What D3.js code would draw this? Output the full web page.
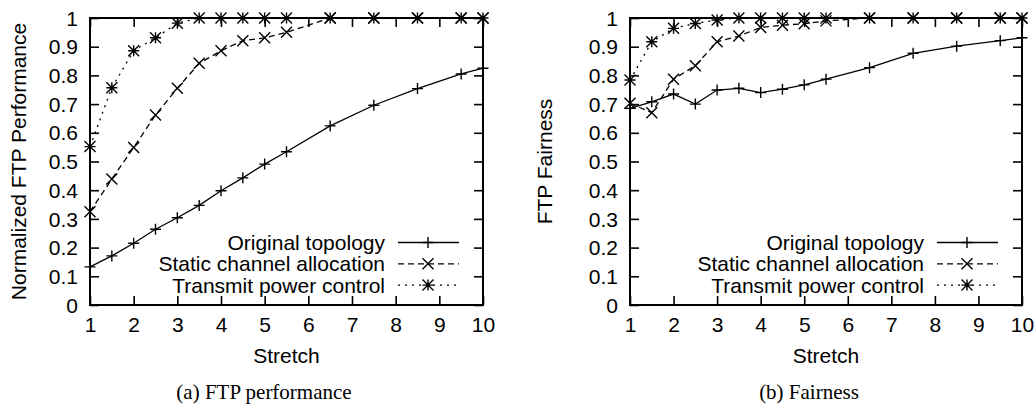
<!DOCTYPE html>
<html>
<head>
<meta charset="utf-8">
<script src="https://cdn.jsdelivr.net/npm/d3@7"></script>
<style>
  body { margin: 0; background: #fff; }
  svg { display: block; }
  .tick text { font-family: "Liberation Sans", Arial, sans-serif; font-size: 21px; fill: #000; }
  .lbl { font-family: "Liberation Sans", Arial, sans-serif; font-size: 21px; fill: #000; }
  .cap { font-family: "Liberation Serif", "Times New Roman", serif; font-size: 21px; fill: #000; }
</style>
</head>
<body>
<script>
// stretch values where the runs were measured
const stretch = [1, 1.5, 2, 2.5, 3, 3.5, 4, 4.5, 5, 5.5, 6.5, 7.5, 8.5, 9.5, 10];

// (a) normalized FTP performance
const perfOriginal = [0.133, 0.171, 0.215, 0.264, 0.304, 0.347, 0.398, 0.443, 0.491, 0.534, 0.624, 0.696, 0.754, 0.805, 0.825];
const perfStatic   = [0.325, 0.439, 0.549, 0.662, 0.755, 0.842, 0.886, 0.921, 0.931, 0.950, 1.0, 1.0, 1.0, 1.0, 1.0];
const perfPower    = [0.552, 0.757, 0.886, 0.931, 0.982, 1.0, 1.0, 1.0, 1.0, 1.0, 1.0, 1.0, 1.0, 1.0, 1.0];

// (b) FTP fairness
const fairOriginal = [0.685, 0.708, 0.735, 0.700, 0.749, 0.755, 0.740, 0.752, 0.767, 0.787, 0.827, 0.877, 0.902, 0.921, 0.931];
const fairStatic   = [0.703, 0.670, 0.787, 0.834, 0.917, 0.937, 0.967, 0.975, 0.980, 0.990, 1.0, 1.0, 1.0, 1.0, 1.0];
const fairPower    = [0.784, 0.917, 0.964, 0.981, 0.993, 1.0, 1.0, 1.0, 1.0, 1.0, 1.0, 1.0, 1.0, 1.0, 1.0];

const seriesNames = ['Original topology', 'Static channel allocation', 'Transmit power control'];
const xTicks = [1, 2, 3, 4, 5, 6, 7, 8, 9, 10];
const yTicks = [0, 0.1, 0.2, 0.3, 0.4, 0.5, 0.6, 0.7, 0.8, 0.9, 1];

const W = 1036, H = 404;
const TICK = 9;
const MS = 5.5; // marker half size

// line style + marker shape for each series (gnuplot look)
const styles = [
  { dash: null,  marker: 'plus' },
  { dash: '6,4', marker: 'cross' },
  { dash: '2,5', marker: 'star' }
];

const svg = d3.select('body').append('svg')
  .attr('width', W)
  .attr('height', H);

function markerPath(kind) {
  let s = MS;
  let plus = 'M' + (-s) + ',0H' + s + 'M0,' + (-s) + 'V' + s;
  let cross = 'M' + (-s) + ',' + (-s) + 'L' + s + ',' + s + 'M' + (-s) + ',' + s + 'L' + s + ',' + (-s);
  if (kind === 'plus') return plus;
  if (kind === 'cross') return cross;
  return plus + cross;
}

function drawPanel(opts) {
  let x = d3.scaleLinear().domain([1, 10]).range([opts.left, opts.right]);
  let y = d3.scaleLinear().domain([0, 1]).range([opts.bottom, opts.top]);
  let g = svg.append('g');

  // axes, ticks pointing inwards on all four sides
  let fmt = d3.format('~g');
  g.append('g')
    .attr('class', 'xaxis')
    .attr('transform', 'translate(0,' + opts.bottom + ')')
    .call(d3.axisBottom(x).tickValues(xTicks).tickFormat(fmt).tickSize(-TICK).tickPadding(12));
  g.append('g')
    .attr('transform', 'translate(0,' + opts.top + ')')
    .call(d3.axisTop(x).tickValues(xTicks).tickFormat('').tickSize(-TICK));
  g.append('g')
    .attr('class', 'yaxis')
    .attr('transform', 'translate(' + opts.left + ',0)')
    .call(d3.axisLeft(y).tickValues(yTicks).tickFormat(fmt).tickSize(-TICK).tickPadding(12));
  g.append('g')
    .attr('transform', 'translate(' + opts.right + ',0)')
    .call(d3.axisRight(y).tickValues(yTicks).tickFormat('').tickSize(-TICK));

  g.selectAll('.domain').remove();
  g.selectAll('.tick line').attr('stroke', '#000').attr('stroke-width', 1.6);
  g.selectAll('.xaxis .tick text').attr('dy', '0.71em');
  g.selectAll('.yaxis .tick text').attr('dy', '0.34em');

  // border
  g.append('rect')
    .attr('x', opts.left)
    .attr('y', opts.top)
    .attr('width', opts.right - opts.left)
    .attr('height', opts.bottom - opts.top)
    .attr('fill', 'none')
    .attr('stroke', '#000')
    .attr('stroke-width', 2);

  // series
  let line = d3.line()
    .x(function(d) { return x(d[0]); })
    .y(function(d) { return y(d[1]); });

  opts.series.forEach(function(vals, si) {
    let pts = stretch.map(function(s, i) { return [s, vals[i]]; });
    g.append('path')
      .attr('d', line(pts))
      .attr('fill', 'none')
      .attr('stroke', '#000')
      .attr('stroke-width', 1.3)
      .attr('stroke-dasharray', styles[si].dash);
    g.selectAll('.m' + si)
      .data(pts)
      .enter()
      .append('path')
      .attr('transform', function(d) { return 'translate(' + x(d[0]) + ',' + y(d[1]) + ')'; })
      .attr('d', markerPath(styles[si].marker))
      .attr('fill', 'none')
      .attr('stroke', '#000')
      .attr('stroke-width', 1.4);
  });

  // legend (inside, lower right)
  seriesNames.forEach(function(name, si) {
    let ly = 242.5 + si * 21.3;
    g.append('text')
      .attr('class', 'lbl')
      .attr('x', opts.right - 98)
      .attr('y', ly)
      .attr('dy', '0.36em')
      .attr('text-anchor', 'end')
      .text(name);
    g.append('line')
      .attr('x1', opts.right - 85)
      .attr('x2', opts.right - 24)
      .attr('y1', ly)
      .attr('y2', ly)
      .attr('stroke', '#000')
      .attr('stroke-width', 1.3)
      .attr('stroke-dasharray', styles[si].dash);
    g.append('path')
      .attr('transform', 'translate(' + (opts.right - 55) + ',' + ly + ')')
      .attr('d', markerPath(styles[si].marker))
      .attr('fill', 'none')
      .attr('stroke', '#000')
      .attr('stroke-width', 1.4);
  });

  // axis titles
  g.append('text')
    .attr('class', 'lbl')
    .attr('x', (opts.left + opts.right) / 2)
    .attr('y', 363)
    .attr('text-anchor', 'middle')
    .text('Stretch');
  g.append('text')
    .attr('class', 'lbl')
    .attr('transform', 'translate(' + opts.ylabelX + ',' + ((opts.top + opts.bottom) / 2) + ') rotate(-90)')
    .attr('text-anchor', 'middle')
    .text(opts.ylabel);

  // caption
  g.append('text')
    .attr('class', 'cap')
    .attr('x', opts.captionX)
    .attr('y', 399)
    .attr('text-anchor', 'middle')
    .text(opts.caption);
}

drawPanel({
  left: 90, right: 483, top: 18, bottom: 305,
  series: [perfOriginal, perfStatic, perfPower],
  ylabel: 'Normalized FTP Performance', ylabelX: 25.5,
  caption: '(a) FTP performance', captionX: 264
});

drawPanel({
  left: 630, right: 1022, top: 18, bottom: 305,
  series: [fairOriginal, fairStatic, fairPower],
  ylabel: 'FTP Fairness', ylabelX: 552,
  caption: '(b) Fairness', captionX: 809
});
</script>
</body>
</html>
